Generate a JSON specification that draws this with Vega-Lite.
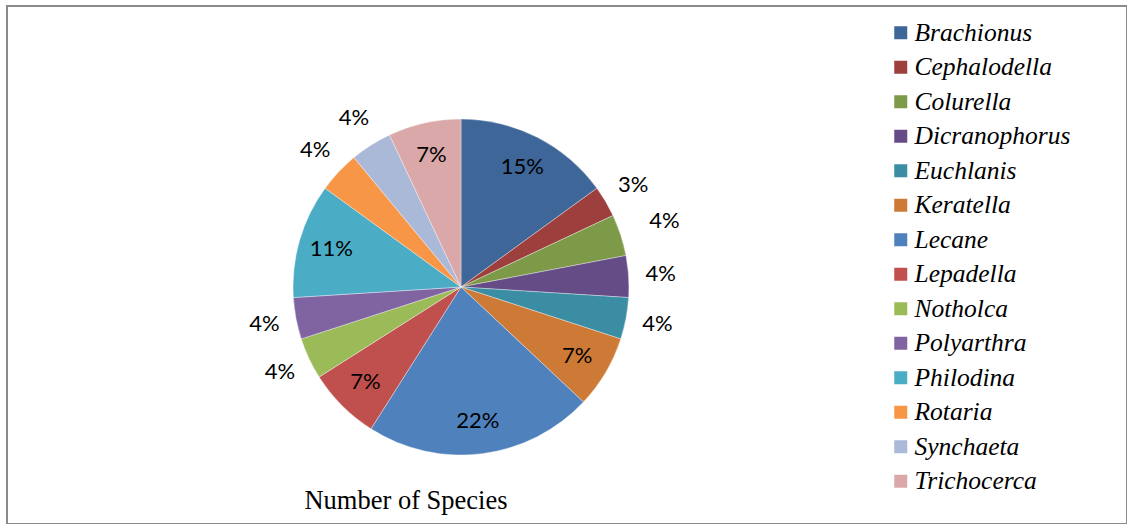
{
  "$schema": "https://vega.github.io/schema/vega-lite/v6.json",
  "autosize": {"type": "none"},
  "padding": {"left": 7, "top": 6, "right": 0, "bottom": 0},
  "width": 1120,
  "height": 518,
  "background": "white",
  "view": {"stroke": "#8a8a8a", "strokeWidth": 2},
  "config": {
    "view": {"stroke": "#8a8a8a", "strokeWidth": 2},
    "legend": {"labelFont": "Liberation Serif", "labelFontStyle": "italic"}
  },
  "title": {
    "text": "Number of Species",
    "orient": "bottom",
    "anchor": "middle",
    "frame": "group",
    "font": "Liberation Serif",
    "fontSize": 26.5,
    "fontWeight": "normal",
    "color": "#000000",
    "baseline": "alphabetic",
    "offset": 0,
    "dx": -161,
    "dy": -16
  },
  "datasets": {
    "rotifers": [
      {"n": 1, "genus": "Brachionus", "share": 0.15},
      {"n": 2, "genus": "Cephalodella", "share": 0.03},
      {"n": 3, "genus": "Colurella", "share": 0.04},
      {"n": 4, "genus": "Dicranophorus", "share": 0.04},
      {"n": 5, "genus": "Euchlanis", "share": 0.04},
      {"n": 6, "genus": "Keratella", "share": 0.07},
      {"n": 7, "genus": "Lecane", "share": 0.22},
      {"n": 8, "genus": "Lepadella", "share": 0.07},
      {"n": 9, "genus": "Notholca", "share": 0.04},
      {"n": 10, "genus": "Polyarthra", "share": 0.04},
      {"n": 11, "genus": "Philodina", "share": 0.11},
      {"n": 12, "genus": "Rotaria", "share": 0.04},
      {"n": 13, "genus": "Synchaeta", "share": 0.04},
      {"n": 14, "genus": "Trichocerca", "share": 0.07}
    ],
    "frame": [{"name": "frame"}]
  },
  "layer": [
    {
      "data": {"name": "frame"},
      "mark": {"type": "rect", "filled": false, "stroke": "#8a8a8a", "strokeWidth": 2},
      "encoding": {}
    },
    {
      "data": {"name": "rotifers"},
      "mark": {"type": "arc", "outerRadius": 168, "xOffset": -106, "yOffset": 22, "stroke": "#ffffff", "strokeWidth": 0.6, "strokeOpacity": 0.6},
      "encoding": {
        "theta": {"field": "share", "type": "quantitative", "stack": true},
        "order": {"field": "n", "type": "quantitative"},
        "color": {
          "field": "genus",
          "type": "nominal",
          "sort": null,
          "scale": {
            "domain": ["Brachionus", "Cephalodella", "Colurella", "Dicranophorus", "Euchlanis", "Keratella", "Lecane", "Lepadella", "Notholca", "Polyarthra", "Philodina", "Rotaria", "Synchaeta", "Trichocerca"],
            "range": ["#3e6698", "#9d403d", "#7d9a48", "#664c86", "#3a8da2", "#cd7a37", "#4f81bd", "#c0504d", "#9bbb59", "#8064a2", "#4bacc6", "#f79646", "#aab9d8", "#daa8a8"]
          },
          "legend": {
            "orient": "none",
            "legendX": 881,
            "legendY": 14,
            "title": null,
            "padding": 0,
            "symbolType": "square",
            "symbolSize": 169,
            "symbolStrokeWidth": 0,
            "symbolOpacity": 1,
            "labelFont": "Liberation Serif",
            "labelFontStyle": "italic",
            "labelFontSize": 25.5,
            "labelColor": "#000000",
            "labelOffset": 1,
            "labelLimit": 300,
            "rowPadding": 7.5
          }
        }
      }
    },
    {
      "data": {"name": "rotifers"},
      "mark": {"type": "text", "radius": 135, "xOffset": -106, "yOffset": 22, "font": "Lato", "fontSize": 22, "color": "#000000"},
      "encoding": {
        "theta": {"field": "share", "type": "quantitative", "stack": true},
        "order": {"field": "n", "type": "quantitative"},
        "text": {"condition": {"test": "datum.share >= 0.07", "field": "share", "type": "quantitative", "format": ".0%"}, "value": ""}
      }
    },
    {
      "data": {"name": "rotifers"},
      "mark": {"type": "text", "radius": 200, "xOffset": -106, "yOffset": 22, "font": "Lato", "fontSize": 22, "color": "#000000"},
      "encoding": {
        "theta": {"field": "share", "type": "quantitative", "stack": true},
        "order": {"field": "n", "type": "quantitative"},
        "text": {"condition": {"test": "datum.share < 0.07 && datum.genus != 'Colurella'", "field": "share", "type": "quantitative", "format": ".0%"}, "value": ""}
      }
    },
    {
      "data": {"name": "rotifers"},
      "mark": {"type": "text", "radius": 214, "xOffset": -106, "yOffset": 22, "font": "Lato", "fontSize": 22, "color": "#000000"},
      "encoding": {
        "theta": {"field": "share", "type": "quantitative", "stack": true},
        "order": {"field": "n", "type": "quantitative"},
        "text": {"condition": {"test": "datum.genus == 'Colurella'", "field": "share", "type": "quantitative", "format": ".0%"}, "value": ""}
      }
    }
  ]
}
